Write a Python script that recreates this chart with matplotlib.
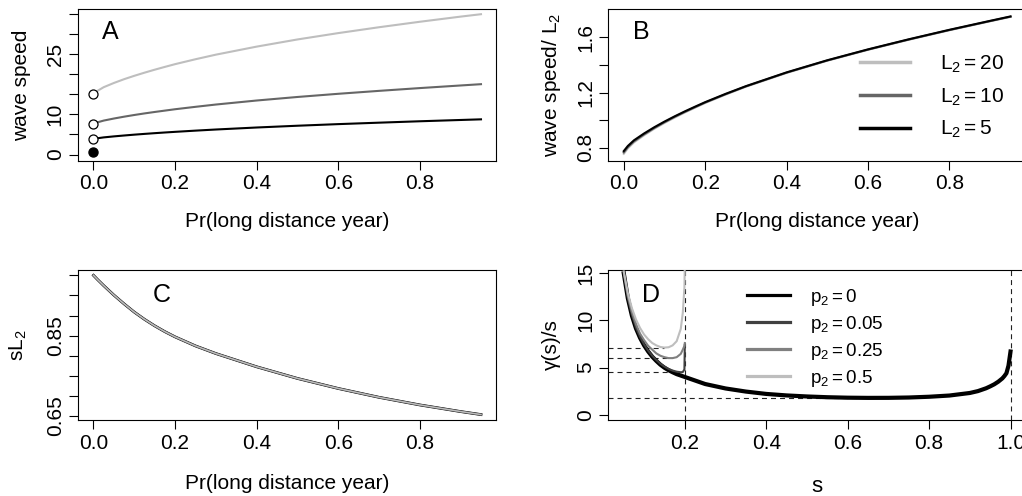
import matplotlib.pyplot as plt
import numpy as np
from matplotlib.lines import Line2D

plt.rcParams['font.family'] = ['Liberation Sans', 'DejaVu Sans']
plt.rcParams['mathtext.fontset'] = 'custom'
plt.rcParams['mathtext.rm'] = 'Liberation Sans'
plt.rcParams['mathtext.it'] = 'Liberation Sans:italic'
plt.rcParams['mathtext.sf'] = 'Liberation Sans'
plt.rcParams['lines.scale_dashes'] = False

# ---- data ----
# panels A-C: x = Pr(long distance year)
p_long = [0, 0.01, 0.025, 0.05, 0.075, 0.1, 0.125, 0.15, 0.175, 0.2, 0.25, 0.3, 0.4, 0.5, 0.6, 0.7, 0.8, 0.9, 0.95]

# A: wave speed
speed_20 = [15.0, 15.85, 16.75, 17.8, 18.74, 19.58, 20.36, 21.1, 21.8, 22.48, 23.7, 24.84, 26.84, 28.62, 30.2, 31.66, 33.02, 34.3, 34.9]
speed_10 = [7.6, 8.02, 8.45, 8.96, 9.42, 9.84, 10.23, 10.59, 10.93, 11.27, 11.87, 12.44, 13.44, 14.32, 15.11, 15.84, 16.53, 17.18, 17.5]
speed_5 = [3.9, 4.06, 4.27, 4.52, 4.74, 4.95, 5.14, 5.32, 5.49, 5.65, 5.95, 6.23, 6.73, 7.17, 7.57, 7.93, 8.28, 8.6, 8.76]
start_open = [15.0, 7.6, 3.9]
start_filled = [0.6]

# B: wave speed / L2
ratio_20 = [0.755, 0.795, 0.838, 0.890, 0.937, 0.979, 1.018, 1.055, 1.090, 1.124, 1.185, 1.242, 1.342, 1.431, 1.510, 1.583, 1.652, 1.717, 1.749]
ratio_10 = [0.765, 0.803, 0.845, 0.896, 0.942, 0.984, 1.023, 1.059, 1.093, 1.127, 1.187, 1.244, 1.344, 1.432, 1.511, 1.584, 1.653, 1.718, 1.750]
ratio_5 = [0.775, 0.812, 0.853, 0.903, 0.948, 0.989, 1.027, 1.063, 1.097, 1.130, 1.190, 1.246, 1.346, 1.434, 1.513, 1.586, 1.655, 1.720, 1.752]

# C: s * L2 (same for every L2)
s_l2 = [1.0, 0.9895, 0.9745, 0.9508, 0.929, 0.9085, 0.8905, 0.8743, 0.8598, 0.8468, 0.8243, 0.8053,
        0.7723, 0.7433, 0.7183, 0.6963, 0.6773, 0.6608, 0.6533]

# D: gamma(s)/s
s_all = [0.05, 0.06, 0.07, 0.08, 0.09, 0.1, 0.11, 0.12, 0.13, 0.14, 0.15, 0.16, 0.17, 0.18, 0.19, 0.2,
         0.25, 0.3, 0.35, 0.4, 0.45, 0.5, 0.55, 0.6, 0.65, 0.7, 0.75, 0.8, 0.85, 0.9, 0.92, 0.94,
         0.95, 0.96, 0.97, 0.98, 0.985, 0.99, 0.995, 1.0]
g_p0 = [15.0, 12.35, 10.5, 9.15, 8.15, 7.35, 6.7, 6.15, 5.7, 5.3, 4.98, 4.72, 4.5, 4.3, 4.15, 4.0,
        3.25, 2.78, 2.45, 2.2, 2.04, 1.93, 1.85, 1.8, 1.78, 1.785, 1.82, 1.9, 2.03, 2.3, 2.5, 2.8,
        3.0, 3.22, 3.5, 3.85, 4.1, 4.4, 5.2, 6.7]
s_short = [0.05, 0.06, 0.07, 0.08, 0.09, 0.1, 0.11, 0.12, 0.13, 0.14, 0.15, 0.16, 0.17, 0.18, 0.19,
           0.195, 0.199, 0.2]
g_p005 = [15.0, 12.4, 10.6, 9.25, 8.25, 7.45, 6.8, 6.25, 5.8, 5.4, 5.1, 4.85, 4.68, 4.56, 4.5,
          4.52, 4.8, 7.4]
g_p025 = [15.1, 12.6, 10.9, 9.6, 8.6, 7.9, 7.3, 6.9, 6.5, 6.25, 6.1, 6.0, 6.0, 6.1, 6.45,
          6.9, 7.3, 7.6]
g_p05 = [15.2, 12.9, 11.3, 10.1, 9.2, 8.5, 8.0, 7.6, 7.35, 7.18, 7.12, 7.15, 7.35, 7.8, 9.1,
         10.8, 13.5, 16.0]

light = '#bebebe'
mid = '#666666'

fig = plt.figure(figsize=(10.22, 4.96), dpi=100)
axA = fig.add_axes([0.0763, 0.6754, 0.4095, 0.3065])
axB = fig.add_axes([0.5952, 0.6754, 0.4087, 0.3065])
axC = fig.add_axes([0.0763, 0.1526, 0.4095, 0.3036])
axD = fig.add_axes([0.5952, 0.1526, 0.4087, 0.3036])


def style(ax, yticks, ylabels):
    for sp in ax.spines.values():
        sp.set_linewidth(0.8)
    ax.tick_params(length=6.5, width=0.8, labelsize=15, pad=3)
    ax.set_yticks(yticks)
    ax.set_yticklabels(ylabels)
    for lab in ax.get_yticklabels():
        lab.set_rotation(90)
        lab.set_va('center')


# A
axA.plot(p_long, speed_20, color=light, lw=1.5)
axA.plot(p_long, speed_10, color=mid, lw=1.5)
axA.plot(p_long, speed_5, color='black', lw=1.5)
axA.plot([0] * len(start_open), start_open, 'o', ms=6.5, mfc='white', mec='black', mew=0.9)
axA.plot([0] * len(start_filled), start_filled, 'o', ms=6.5, mfc='black', mec='black')
axA.set_xlim(-0.038, 0.988)
axA.set_ylim(-1.6, 36.2)
style(axA, [0, 5, 10, 15, 20, 25, 30, 35], ['0', '', '10', '', '', '25', '', ''])
axA.set_ylabel('wave speed', fontsize=15, va='center')
axA.text(0.0765, 0.849, 'A', transform=axA.transAxes, fontsize=18, ha='center', va='center')

# B
axB.plot(p_long, ratio_20, color=light, lw=1.5)
axB.plot(p_long, ratio_10, color=mid, lw=1.5)
axB.plot(p_long, ratio_5, color='black', lw=1.5)
axB.set_xlim(-0.038, 0.988)
axB.set_ylim(0.703, 1.806)
style(axB, [0.8, 1.0, 1.2, 1.4, 1.6], ['0.8', '', '1.2', '', '1.6'])
axB.set_ylabel(r'wave speed/ $\mathrm{L_2}$', fontsize=15, va='center')
axB.text(0.078, 0.849, 'B', transform=axB.transAxes, fontsize=18, ha='center', va='center')
hB = [Line2D([], [], color=c, lw=2.5) for c in [light, mid, 'black']]
axB.legend(hB, [r'$\mathrm{L_2 = 20}$', r'$\mathrm{L_2 = 10}$', r'$\mathrm{L_2 = 5}$'],
           loc='upper left', bbox_to_anchor=(0.603, 0.707), frameon=False, fontsize=15,
           handlelength=2.4, handletextpad=1.45, labelspacing=0.55, borderpad=0, borderaxespad=0)

# C
axC.plot(p_long, s_l2, color='black', lw=2.0)
axC.plot(p_long, s_l2, color=mid, lw=1.6)
axC.plot(p_long, s_l2, color=light, lw=1.0)
axC.set_xlim(-0.038, 0.988)
axC.set_ylim(0.639, 1.014)
style(axC, [0.65, 0.70, 0.75, 0.80, 0.85, 0.90, 0.95, 1.00], ['0.65', '', '', '', '0.85', '', '', ''])
axC.set_ylabel(r'$\mathrm{sL_2}$', fontsize=15, va='center')
axC.text(0.2, 0.834, 'C', transform=axC.transAxes, fontsize=18, ha='center', va='center')

for ax in (axA, axB, axC):
    ax.set_xticks([0, 0.2, 0.4, 0.6, 0.8])
    ax.set_xticklabels(['0.0', '0.2', '0.4', '0.6', '0.8'])
    ax.set_xlabel('Pr(long distance year)', fontsize=15, va='center')

# D
dash = dict(color='#222222', lw=0.8, linestyle=(0, (3.6, 2.9)), zorder=1)
axD.axvline(0.2, **dash)
axD.axvline(1.0, **dash)
for xs, ys in [(s_all, g_p0), (s_short, g_p005), (s_short, g_p025), (s_short, g_p05)]:
    i = int(np.argmin(ys))
    axD.plot([0.012, xs[i]], [ys[i], ys[i]], **dash)
axD.plot(s_all, g_p0, color='black', lw=3.0, zorder=2)
axD.plot(s_short, g_p005, color='#404040', lw=1.5, zorder=3)
axD.plot(s_short, g_p025, color='#808080', lw=1.5, zorder=3)
axD.plot(s_short, g_p05, color=light, lw=1.5, zorder=3)
axD.set_xlim(0.012, 1.038)
axD.set_ylim(-0.6, 15.38)
style(axD, [0, 5, 10, 15], ['0', '5', '10', '15'])
axD.set_xticks([0.2, 0.4, 0.6, 0.8, 1.0])
axD.set_xticklabels(['0.2', '0.4', '0.6', '0.8', '1.0'])
axD.set_xlabel('s', fontsize=16, va='center')
axD.set_ylabel('γ(s)/s', fontsize=15, va='center')
axD.text(0.102, 0.834, 'D', transform=axD.transAxes, fontsize=18, ha='center', va='center')
hD = [Line2D([], [], color=c, lw=2.3) for c in ['black', '#404040', '#808080', light]]
axD.legend(hD, [r'$\mathrm{p_2 = 0}$', r'$\mathrm{p_2 = 0.05}$', r'$\mathrm{p_2 = 0.25}$', r'$\mathrm{p_2 = 0.5}$'],
           loc='upper left', bbox_to_anchor=(0.331, 0.885), frameon=False, fontsize=13.5,
           handlelength=2.3, handletextpad=1.1, labelspacing=0.32, borderpad=0, borderaxespad=0)

axA.yaxis.set_label_coords(-0.134, 0.5)
axB.yaxis.set_label_coords(-0.137, 0.5)
axC.yaxis.set_label_coords(-0.143, 0.5)
axD.yaxis.set_label_coords(-0.137, 0.5)
axA.xaxis.set_label_coords(0.5, -0.40)
axB.xaxis.set_label_coords(0.5, -0.40)
axC.xaxis.set_label_coords(0.5, -0.42)
axD.xaxis.set_label_coords(0.5, -0.44)

fig.savefig('out.png', dpi=100)
